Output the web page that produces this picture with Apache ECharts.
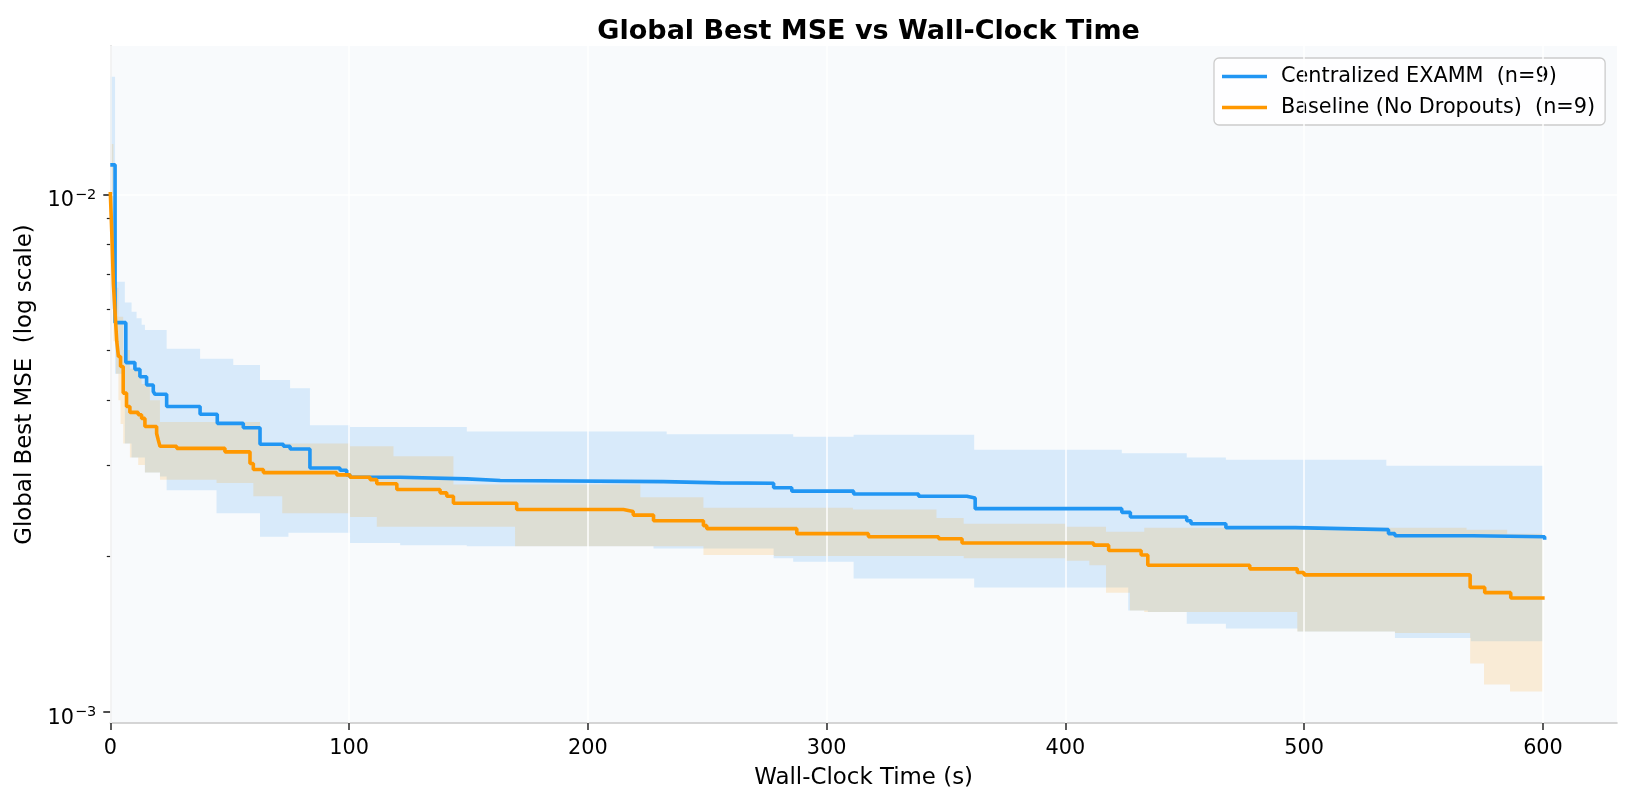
<!DOCTYPE html>
<html>
<head>
<meta charset="utf-8">
<title>Global Best MSE vs Wall-Clock Time</title>
<script src="https://cdn.jsdelivr.net/npm/echarts@6.0.0/dist/echarts.min.js"></script>
<style>
    html, body { margin: 0; padding: 0; background: #ffffff; }
    #chart { width: 1630px; height: 805px; }
</style>
</head>
<body>
<div id="chart"></div>
<script type="text/javascript">
    // axis ticks
    const xTicks = [0, 100, 200, 300, 400, 500, 600];
    const yMajorTicks = [0.001, 0.01];
    const yMinorTicks = [0.002, 0.003, 0.004, 0.005, 0.006, 0.007, 0.008, 0.009];

    const seriesNames = ['Centralized EXAMM  (n=9)', 'Baseline (No Dropouts)  (n=9)'];

    // mean best MSE, step values (value holds until next time)
    const blueT = [0, 2, 6.5, 10.3, 12.4, 15.2, 18, 18.7, 23.6, 37.6, 44.8, 55.7, 62.7, 72.5, 75.3, 83.6,
        96.2, 99, 100.4, 121.4, 149.3, 163.3, 231.7, 255.4, 277.8, 285.4, 311.3, 338.5, 358.7, 362.2,
        423.6, 427.2, 450.8, 452.6, 467.2, 496.2, 535.3, 538, 570.7, 600.7];
    const blueMean = [0.0114, 0.00565, 0.00473, 0.00459, 0.00444, 0.00428, 0.00416, 0.00411, 0.00389, 0.00376,
        0.00361, 0.00354, 0.00329, 0.00326, 0.00322, 0.00296, 0.00293, 0.00287, 0.00284, 0.00282, 0.00280,
        0.002786, 0.00277, 0.002765, 0.00271, 0.00267, 0.002636, 0.00261, 0.00259, 0.00247, 0.00243, 0.00238,
        0.00234, 0.00231, 0.00227, 0.00225, 0.00221, 0.00219, 0.00218, 0.00215];

    const orangeT = [0, 0.6, 1.3, 2, 2.7, 3.4, 4.3, 5.4, 6.8, 8.2, 11.7, 13.1, 14.5, 19.4, 20.1, 20.8, 27.8, 48,
        58.5, 59.9, 64.1, 94.8, 100.4, 108.8, 111.6, 120, 138.1, 140.9, 143.7, 170.2, 214.9, 219, 227.5,
        248.4, 249.8, 287.5, 317.5, 346.9, 356.7, 411.8, 418.1, 431.7, 434.5, 477.2, 497.1, 499.9, 569.5,
        575.6, 586.5, 600.7];
    const orangeMean = [0.0101, 0.0085, 0.0067, 0.0059, 0.0052, 0.00486, 0.00465, 0.00413, 0.00389, 0.00379,
        0.00375, 0.00369, 0.00356, 0.00345, 0.00335, 0.00326, 0.00323, 0.00318, 0.00302, 0.00294, 0.00290,
        0.00287, 0.00284, 0.00281, 0.00276, 0.00269, 0.00265, 0.00261, 0.00253, 0.00246, 0.00244, 0.00240,
        0.00234, 0.00229, 0.00226, 0.00221, 0.00218, 0.00216, 0.00212, 0.00210, 0.00205, 0.00201, 0.00192,
        0.00189, 0.00186, 0.00184, 0.00174, 0.00170, 0.00166, 0.00166];

    // shaded bands (lower / upper)
    const blueBandT = [0, 2, 6.1, 8.9, 11, 13.1, 14.5, 20.8, 23.6, 37.6, 44.5, 51.5, 62.7, 74.6, 75.3, 83.6,
        100.4, 121.4, 149.3, 227.5, 233, 277.8, 286, 311.3, 361.8, 423.6, 426.3, 434.5, 450.8, 467.2, 497.2,
        534.4, 538, 569.8, 600];
    const blueLo = [0.0060, 0.0045, 0.0033, 0.0031, 0.0031, 0.0031, 0.0029, 0.00285, 0.00268, 0.00268, 0.00242,
        0.00242, 0.00218, 0.00222, 0.00222, 0.00222, 0.00212, 0.00210, 0.00209, 0.00207, 0.00207, 0.00198,
        0.00195, 0.00181, 0.00174, 0.00174, 0.00157, 0.00156, 0.00148, 0.00145, 0.00143, 0.00143, 0.00139,
        0.00137, 0.00137];
    const blueHi = [0.01687, 0.00678, 0.00618, 0.00593, 0.00576, 0.00560, 0.00547, 0.00547, 0.00503, 0.00481,
        0.00481, 0.00468, 0.00438, 0.00438, 0.00422, 0.00358, 0.00355, 0.00355, 0.00348, 0.00348, 0.00344,
        0.00344, 0.00340, 0.00343, 0.00321, 0.00316, 0.00316, 0.00316, 0.00310, 0.00307, 0.00307, 0.00299,
        0.00299, 0.00299, 0.00299];

    const orangeBandT = [0, 1.3, 2.4, 3.4, 4.3, 5.4, 8.2, 11.7, 13.1, 14.5, 16.6, 20.8, 44.5, 59.9, 62.7, 72,
        100.4, 111.6, 118.6, 143.7, 169.5, 222, 248.4, 278, 311, 346, 357.4, 400, 410, 417, 427, 433, 497.1,
        538, 568, 569.5, 575.3, 585, 586.2, 600];
    const orangeLo = [0.0080, 0.0052, 0.0045, 0.0040, 0.0036, 0.0033, 0.0031, 0.0030, 0.0030, 0.0029, 0.0029,
        0.00281, 0.00277, 0.00261, 0.00261, 0.00242, 0.00238, 0.00228, 0.00228, 0.00228, 0.00209, 0.00209,
        0.00201, 0.00200, 0.00200, 0.00200, 0.00198, 0.00196, 0.00192, 0.00170, 0.00157, 0.00156, 0.00143,
        0.00142, 0.00142, 0.00124, 0.00113, 0.00113, 0.001095, 0.001095];
    const orangeHi = [0.0125, 0.0080, 0.0066, 0.0058, 0.0058, 0.0050, 0.0046, 0.0046, 0.0043, 0.0043, 0.0040,
        0.00363, 0.00363, 0.00363, 0.00330, 0.00330, 0.00326, 0.00326, 0.00312, 0.00275, 0.00275, 0.00260,
        0.00248, 0.00248, 0.00246, 0.00237, 0.00231, 0.00228, 0.00228, 0.00223, 0.00223, 0.00227, 0.00227,
        0.00227, 0.00225, 0.00225, 0.00225, 0.00221, 0.00221, 0.00221];

    const BLUE = '#2196F3';
    const ORANGE = '#FF9800';
    const FONT = 'DejaVu Sans';

    // step shaped band between lo and hi, one polygon per series
    function bandSeries(T, lo, hi, fill) {
        return {
            type: 'custom',
            z: 2,
            silent: true,
            animation: false,
            data: T.map(function (t, i) { return [t, lo[i], hi[i]]; }),
            encode: {x: 0, y: [1, 2]},
            renderItem: function (params, api) {
                if (params.dataIndex !== 0) {
                    return null;
                }
                let pts = [];
                for (let i = 0; i < T.length - 1; i++) {
                    pts.push(api.coord([T[i], hi[i]]));
                    pts.push(api.coord([T[i + 1], hi[i]]));
                }
                for (let i = T.length - 2; i >= 0; i--) {
                    pts.push(api.coord([T[i + 1], lo[i]]));
                    pts.push(api.coord([T[i], lo[i]]));
                }
                return {type: 'polygon', shape: {points: pts}, style: {fill: fill}};
            }
        };
    }

    function lineSeries(name, T, v, color, withGrid) {
        let s = {
            name: name,
            type: 'line',
            step: 'end',
            symbol: 'none',
            z: 10,
            animation: false,
            lineStyle: {color: color, width: 3.6},
            itemStyle: {color: color},
            data: T.map(function (t, i) { return [t, v[i]]; })
        };
        if (withGrid) {
            // white grid drawn above the bands, below the lines
            s.markLine = {
                silent: true,
                animation: false,
                symbol: ['none', 'none'],
                label: {show: false},
                emphasis: {disabled: true},
                lineStyle: {color: '#ffffff', width: 1.6, type: 'solid', opacity: 0.9},
                data: xTicks.map(function (x) { return {xAxis: x}; })
                    .concat(yMajorTicks.map(function (y) { return {yAxis: y}; }))
            };
        }
        return s;
    }

    let myChart = echarts.init(document.getElementById('chart'), null, {renderer: 'canvas'});
    let option = {
        backgroundColor: '#ffffff',
        animation: false,
        textStyle: {fontFamily: FONT},
        title: {
            text: 'Global Best MSE vs Wall-Clock Time',
            left: 863.6,
            textAlign: 'center',
            top: 13,
            textStyle: {fontFamily: FONT, fontSize: 27, fontWeight: 'bold', color: '#000'}
        },
        legend: {
            orient: 'vertical',
            left: 1214,
            top: 58,
            padding: [8, 10, 7, 8],
            icon: 'rect',
            itemWidth: 45,
            itemHeight: 3.6,
            itemGap: 10,
            data: seriesNames,
            backgroundColor: 'rgba(255,255,255,0.8)',
            borderColor: '#cccccc',
            borderWidth: 1.3,
            borderRadius: 5,
            textStyle: {fontFamily: FONT, fontSize: 20.8, color: '#000', padding: [0, 0, 0, 9]}
        },
        grid: {
            left: 110.3,
            right: 13,
            top: 46,
            bottom: 82,
            show: true,
            backgroundColor: '#f8fafc',
            borderWidth: 0,
            containLabel: false,
            outerBoundsMode: 'none'
        },
        xAxis: {
            type: 'value',
            min: 0,
            max: 631,
            interval: 100,
            name: 'Wall-Clock Time (s)',
            nameLocation: 'middle',
            nameGap: 44,
            nameTextStyle: {fontFamily: FONT, fontSize: 22.9, color: '#000'},
            axisLine: {show: true, lineStyle: {color: '#c8c8c8', width: 1.6}},
            axisTick: {show: true, customValues: xTicks, length: 7, lineStyle: {color: '#333', width: 1.6}},
            axisLabel: {customValues: xTicks, fontFamily: FONT, fontSize: 20.8, color: '#000', margin: 15},
            splitLine: {show: false}
        },
        yAxis: [{
            type: 'log',
            logBase: 10,
            position: 'left',
            min: 0.000952,
            max: 0.01934,
            name: 'Global Best MSE  (log scale)',
            nameLocation: 'middle',
            nameGap: 74,
            nameTextStyle: {fontFamily: FONT, fontSize: 22.9, color: '#000'},
            axisLine: {show: true, lineStyle: {color: '#c8c8c8', width: 1.6}},
            axisTick: {show: true, customValues: yMajorTicks, length: 7, lineStyle: {color: '#222', width: 1.6}},
            axisLabel: {
                customValues: yMajorTicks,
                margin: 14,
                formatter: function (v) {
                    let e = Math.round(Math.log10(v));
                    return '{b|10}{s|\u2212' + (-e) + '}';
                },
                rich: {
                    b: {fontFamily: FONT, fontSize: 20.8, color: '#000', padding: [13, 0, 0, 0]},
                    s: {fontFamily: FONT, fontSize: 14.5, color: '#000', padding: [1, 0, 0, 1]}
                }
            },
            splitLine: {show: false}
        }, {
            type: 'log',
            logBase: 10,
            position: 'left',
            min: 0.000952,
            max: 0.01934,
            axisLine: {show: false},
            axisTick: {show: true, customValues: yMinorTicks, length: 3.5, lineStyle: {color: '#222', width: 1.2}},
            axisLabel: {show: false},
            splitLine: {show: false}
        }],
        series: [
            bandSeries(blueBandT, blueLo, blueHi, 'rgba(33,150,243,0.15)'),
            bandSeries(orangeBandT, orangeLo, orangeHi, 'rgba(255,152,0,0.15)'),
            lineSeries(seriesNames[0], blueT, blueMean, BLUE, true),
            lineSeries(seriesNames[1], orangeT, orangeMean, ORANGE, false)
        ]
    };
    myChart.setOption(option);
</script>
</body>
</html>
